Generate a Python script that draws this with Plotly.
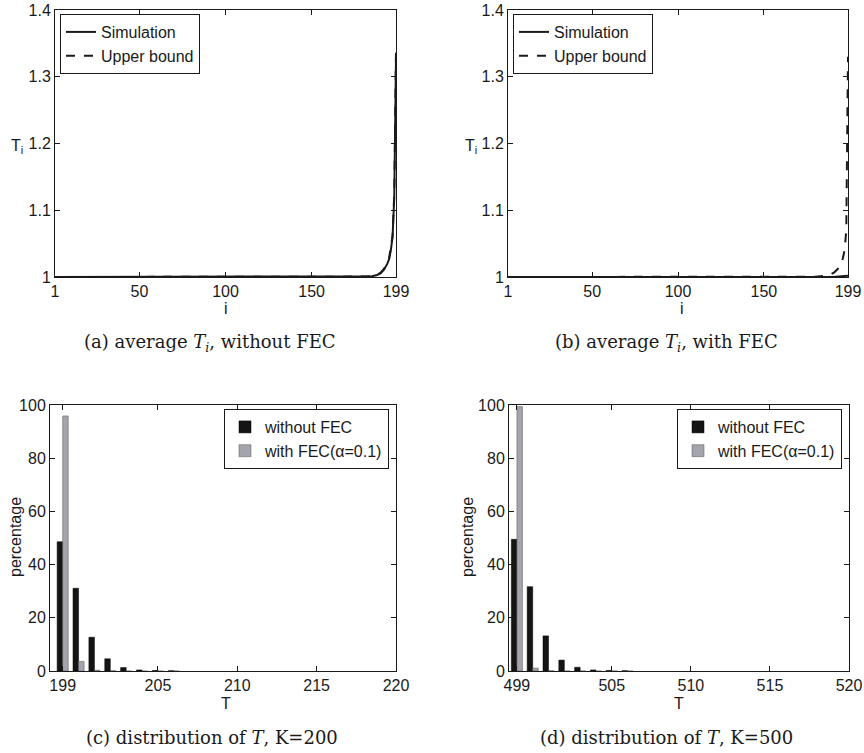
import plotly.graph_objects as go

W, H = 864, 753

# ---------------- data ----------------
# (a) average T_i, without FEC
a_i_sim = [1, 50, 100, 150, 175, 182, 185, 188, 190, 192, 193, 194, 195, 196, 197, 198, 199]
a_sim = [1.0, 1.0, 1.0, 1.0, 1.0, 1.0003, 1.001, 1.003, 1.0055, 1.011, 1.015, 1.02, 1.027, 1.04, 1.06, 1.12, 1.33]
a_i_ub = [1, 50, 100, 150, 175, 182, 185, 188, 190, 192, 193, 194, 195, 196, 197, 198, 199]
a_ub = [1.0, 1.0, 1.0, 1.0, 1.0002, 1.0006, 1.0015, 1.0035, 1.006, 1.012, 1.016, 1.021, 1.028, 1.042, 1.062, 1.125, 1.34]

# (b) average T_i, with FEC
b_i_sim = [1, 50, 100, 150, 190, 199]
b_sim = [1.0, 1.0, 1.0, 1.0, 1.0, 1.002]
b_i_ub = [1, 50, 100, 150, 180, 186, 189, 191, 193, 195, 196, 197, 198, 199]
b_ub = [1.0, 1.0, 1.0, 1.0, 1.0005, 1.002, 1.004, 1.007, 1.012, 1.02, 1.028, 1.04, 1.07, 1.33]

i_ticks = [1, 50, 100, 150, 199]
ti_ticks = [1.0, 1.1, 1.2, 1.3, 1.4]
ti_labels = ["1", "1.1", "1.2", "1.3", "1.4"]

# (c) distribution of T, K=200
c_T = [199, 200, 201, 202, 203, 204, 205, 206]
c_without = [48.6, 31.1, 12.7, 4.6, 1.3, 0.4, 0.2, 0.1]
c_with = [95.9, 3.6, 0.3, 0.1, 0.0, 0.0, 0.0, 0.0]
c_ticks = [199, 205, 210, 215, 220]

# (d) distribution of T, K=500
d_T = [499, 500, 501, 502, 503, 504, 505, 506]
d_without = [49.5, 31.7, 13.2, 4.1, 1.4, 0.4, 0.2, 0.1]
d_with = [99.4, 1.1, 0.1, 0.0, 0.0, 0.0, 0.0, 0.0]
d_ticks = [499, 505, 510, 515, 520]

pct_ticks = [0, 20, 40, 60, 80, 100]

# ---------------- helpers ----------------
def px_x(x):
    return x / W

def px_y(y):
    return 1 - y / H

SANS = "Liberation Sans, Arial, sans-serif"
SERIF = "DejaVu Serif, serif"
INK = "#1a1a1a"
BLACKBAR = "#141414"
GRAYBAR = "#a4a4ac"

fig = go.Figure()

# lines
fig.add_trace(go.Scatter(x=a_i_sim, y=a_sim, mode="lines", name="Simulation",
                         line=dict(color=INK, width=2), xaxis="x", yaxis="y", legend="legend"))
fig.add_trace(go.Scatter(x=a_i_ub, y=a_ub, mode="lines", name="Upper bound",
                         line=dict(color=INK, width=2, dash="dash"), xaxis="x", yaxis="y", legend="legend"))
fig.add_trace(go.Scatter(x=b_i_sim, y=b_sim, mode="lines", name="Simulation",
                         line=dict(color=INK, width=2), xaxis="x2", yaxis="y2", legend="legend2"))
fig.add_trace(go.Scatter(x=b_i_ub, y=b_ub, mode="lines", name="Upper bound",
                         line=dict(color=INK, width=2, dash="dash"), xaxis="x2", yaxis="y2", legend="legend2"))

# bars
fig.add_trace(go.Bar(x=c_T, y=c_without, name="without FEC", marker=dict(color=BLACKBAR, line=dict(color="#000", width=0.5)),
                     xaxis="x3", yaxis="y3", legend="legend3", offsetgroup="a"))
fig.add_trace(go.Bar(x=c_T, y=c_with, name="with FEC(α=0.1)", marker=dict(color=GRAYBAR, line=dict(color="#555", width=0.5)),
                     xaxis="x3", yaxis="y3", legend="legend3", offsetgroup="b"))
fig.add_trace(go.Bar(x=d_T, y=d_without, name="without FEC", marker=dict(color=BLACKBAR, line=dict(color="#000", width=0.5)),
                     xaxis="x4", yaxis="y4", legend="legend4", offsetgroup="a"))
fig.add_trace(go.Bar(x=d_T, y=d_with, name="with FEC(α=0.1)", marker=dict(color=GRAYBAR, line=dict(color="#555", width=0.5)),
                     xaxis="x4", yaxis="y4", legend="legend4", offsetgroup="b"))

tickfont = dict(family=SANS, size=16, color=INK)

def axis(domain, anchor, rng, tv, tt=None):
    return dict(domain=domain, anchor=anchor, range=rng, tickvals=tv,
                ticktext=tt if tt else [str(v) for v in tv],
                ticks="inside", ticklen=5, tickcolor=INK, showline=True, linecolor=INK, linewidth=1,
                mirror="ticks", showgrid=False, zeroline=False, tickfont=tickfont, automargin=False)

top_y = [px_y(277), px_y(10)]
bot_y = [px_y(671), px_y(405)]

legend_common = dict(bgcolor="white", bordercolor=INK, borderwidth=1,
                     font=dict(family=SANS, size=16, color=INK), xanchor="left", yanchor="top",
                     tracegroupgap=0, itemclick=False)

fig.update_layout(
    width=W, height=H, margin=dict(l=0, r=0, t=0, b=0, pad=0),
    paper_bgcolor="white", plot_bgcolor="white",
    barmode="group", bargap=0.3, bargroupgap=0.0,
    xaxis=axis([px_x(55), px_x(396)], "y", [1, 199], i_ticks),
    yaxis=axis(top_y, "x", [1, 1.4], ti_ticks, ti_labels),
    xaxis2=axis([px_x(508), px_x(848)], "y2", [1, 199], i_ticks),
    yaxis2=axis(top_y, "x2", [1, 1.4], ti_ticks, ti_labels),
    xaxis3=axis([px_x(50), px_x(396)], "y3", [198.2, 220], c_ticks),
    yaxis3=axis(bot_y, "x3", [0, 100], pct_ticks),
    xaxis4=axis([px_x(509), px_x(849)], "y4", [498.5, 520], d_ticks),
    yaxis4=axis(bot_y, "x4", [0, 100], pct_ticks),
    legend=dict(legend_common, x=px_x(60), y=px_y(14)),
    legend2=dict(legend_common, x=px_x(513), y=px_y(14)),
    legend3=dict(legend_common, x=px_x(224), y=px_y(409)),
    legend4=dict(legend_common, x=px_x(677), y=px_y(409)),
    showlegend=True,
)

def ann(text, x, y, size=16, family=SANS, angle=0):
    fig.add_annotation(text=text, x=px_x(x), y=px_y(y), xref="paper", yref="paper",
                       showarrow=False, xanchor="center", yanchor="middle", textangle=angle,
                       font=dict(family=family, size=size, color=INK))

# axis labels
ann("T<sub>i</sub>", 17, 146)
ann("T<sub>i</sub>", 471, 146)
ann("i", 226, 308)
ann("i", 682, 308)
ann("percentage", 15, 537, angle=-90)
ann("percentage", 467, 537, angle=-90)
ann("T", 226, 703)
ann("T", 679, 703)

# captions
ann("(a) average <i>T<sub>i</sub></i>, without FEC", 210, 343, size=18, family=SERIF)
ann("(b) average <i>T<sub>i</sub></i>, with FEC", 666, 343, size=18, family=SERIF)
ann("(c) distribution of <i>T</i>, K=200", 212, 737, size=18, family=SERIF)
ann("(d) distribution of <i>T</i>, K=500", 666, 737, size=18, family=SERIF)

fig.write_html(
    "out.html",
    config={"displayModeBar": False},
    post_script="document.body.style.margin='0';document.body.style.padding='0';"
                "document.documentElement.style.overflow='hidden';document.body.style.overflow='hidden';",
)
